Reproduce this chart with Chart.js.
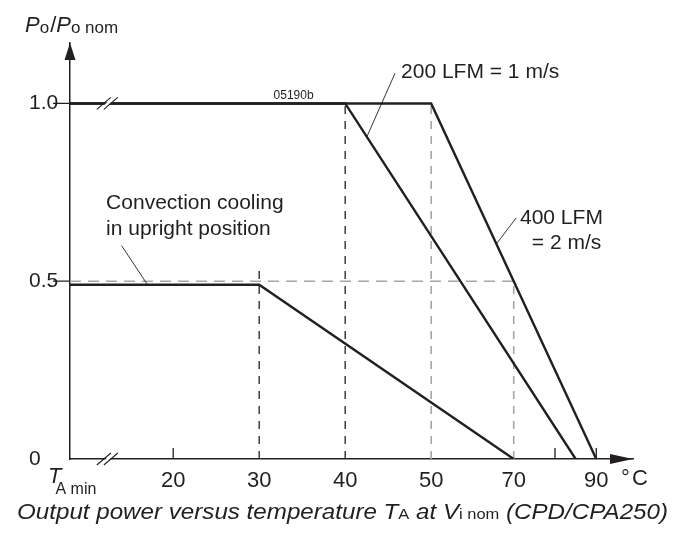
<!DOCTYPE html>
<html>
<head>
<meta charset="utf-8">
<script src="https://cdn.jsdelivr.net/npm/chart.js@4.4.1/dist/chart.umd.min.js"></script>
<style>
html,body{margin:0;padding:0;background:#fff;}
#wrap{width:676px;height:535px;position:relative;}
canvas{display:block;}
</style>
</head>
<body>
<div id="wrap"><canvas id="c" width="676" height="535"></canvas></div>
<script>
// ---------------- data ----------------
const T_AMIN = 8;            // schematic start of the (broken) temperature axis
const X_END_T = 98.9;        // end of axis (arrow tip)
const xTickValues = [20, 30, 40, 50, 70, 80, 90];
const xTickLabels = ['20', '30', '40', '50', '70', '', '90'];
const yTickValues = [0, 0.5, 1.0];
const yTickLabels = ['0', '0.5', '1.0'];

const convectionT = [T_AMIN, 30, 70];
const convectionP = [0.49, 0.49, 0];
const lfm200T = [T_AMIN, 40, 85];
const lfm200P = [1.0, 1.0, 0];
const lfm400T = [T_AMIN, 50, 90];
const lfm400P = [1.0, 1.0, 0];

const guide30T = [30, 30];   const guide30P = [0, 0.53];
const guide40T = [40, 40];   const guide40P = [0, 1.0];
const guide50T = [50, 50];   const guide50P = [0, 1.0];
const guide70T = [70, 70];   const guide70P = [0, 0.5];
const halfT = [T_AMIN, 70];  const halfP = [0.5, 0.5];

// ---------------- broken temperature scale ----------------
const BREAK_T = 50, COMPRESS = 0.48;
const toAxis = t => t <= BREAK_T ? t : BREAK_T + (t - BREAK_T) * COMPRESS;
const fromAxis = v => v <= BREAK_T ? v : BREAK_T + (v - BREAK_T) / COMPRESS;

class BrokenScale extends Chart.LinearScale {
  determineDataLimits() {
    this.min = toAxis(this.options.min);
    this.max = toAxis(this.options.max);
  }
  buildTicks() { return xTickValues.map(v => ({ value: v })); }
  getPixelForValue(value) { return super.getPixelForValue(toAxis(value)); }
  getValueForPixel(pixel) { return fromAxis(super.getValueForPixel(pixel)); }
}
BrokenScale.id = 'broken';
BrokenScale.defaults = Chart.LinearScale.defaults;
Chart.register(BrokenScale);

// ---------------- styling ----------------
const INK = '#231f20';
const GRAY = '#a6a6a6';
const FONT = '"Liberation Sans", Arial, Helvetica, sans-serif';

const pts = (xs, ys) => xs.map((x, i) => ({ x, y: ys[i] }));
const ds = (label, xs, ys, color, width, dash, order) => ({
  label, data: pts(xs, ys), borderColor: color, borderWidth: width,
  borderDash: dash || [], pointRadius: 0, fill: false, tension: 0,
  order: order, borderCapStyle: 'butt', borderJoinStyle: 'miter'
});

const datasets = [
  ds('200 LFM = 1 m/s', lfm200T, lfm200P, INK, 2.4, null, 1),
  ds('400 LFM = 2 m/s', lfm400T, lfm400P, INK, 2.4, null, 1),
  ds('Convection cooling', convectionT, convectionP, INK, 2.4, null, 1),
  ds('g30', guide30T, guide30P, INK, 1.3, [8, 7], 5),
  ds('g40', guide40T, guide40P, INK, 1.3, [8, 7], 5),
  ds('g50', guide50T, guide50P, GRAY, 1.6, [8, 7], 5),
  ds('g70', guide70T, guide70P, GRAY, 1.6, [8, 7], 5),
  ds('half', halfT, halfP, GRAY, 1.6, [11, 7], 6)
];

// ---------------- decorations ----------------
function runs(ctx, parts, x, y) {
  let cx = x;
  for (const p of parts) {
    ctx.font = p.font;
    ctx.fillText(p.t, cx + (p.dx || 0), y + (p.dy || 0));
    cx += ctx.measureText(p.t).width + (p.dx || 0) + (p.after || 0);
  }
  return cx - x;
}
function measureRuns(ctx, parts) {
  let w = 0;
  for (const p of parts) { ctx.font = p.font; w += ctx.measureText(p.t).width + (p.dx || 0) + (p.after || 0); }
  return w;
}
function along(meta, i, f) {
  const a = meta.data[i], b = meta.data[i + 1];
  return { x: a.x + (b.x - a.x) * f, y: a.y + (b.y - a.y) * f };
}
function breakMark(ctx, px, py) {
  ctx.save();
  ctx.fillStyle = '#fff';
  ctx.beginPath();
  ctx.moveTo(px - 8, py + 6); ctx.lineTo(px + 4, py - 6);
  ctx.lineTo(px + 8, py - 6); ctx.lineTo(px - 4, py + 6);
  ctx.closePath(); ctx.fill();
  ctx.strokeStyle = INK; ctx.lineWidth = 1.1;
  ctx.beginPath();
  ctx.moveTo(px - 11, py + 6); ctx.lineTo(px + 3, py - 6);
  ctx.moveTo(px - 4, py + 6); ctx.lineTo(px + 10, py - 6);
  ctx.stroke();
  ctx.restore();
}
const BREAK_MARK_T = 12.4;

const deco = {
  id: 'deco',
  afterDraw(chart) {
    const { ctx, chartArea: a } = chart;
    const x = chart.scales.x, y = chart.scales.y;
    ctx.save();
    ctx.fillStyle = INK; ctx.strokeStyle = INK;

    // axis arrows
    ctx.beginPath();
    ctx.moveTo(a.left, a.top); ctx.lineTo(a.left - 5.5, a.top + 17); ctx.lineTo(a.left + 5.5, a.top + 17);
    ctx.closePath(); ctx.fill();
    ctx.beginPath();
    ctx.moveTo(a.right, a.bottom); ctx.lineTo(a.right - 23, a.bottom - 5); ctx.lineTo(a.right - 23, a.bottom + 5);
    ctx.closePath(); ctx.fill();

    // tick marks
    ctx.lineWidth = 1.3;
    ctx.beginPath();
    [0.5, 1.0].forEach(v => { const py = y.getPixelForValue(v); ctx.moveTo(a.left - 17, py); ctx.lineTo(a.left, py); });
    [20, 80, 90].forEach(v => { const px = x.getPixelForValue(v); ctx.moveTo(px, a.bottom); ctx.lineTo(px, a.bottom - 11); });
    ctx.stroke();

    // axis breaks
    const bx = x.getPixelForValue(BREAK_MARK_T);
    breakMark(ctx, bx, a.bottom);
    breakMark(ctx, bx, y.getPixelForValue(1.0));

    // leader lines
    ctx.lineWidth = 0.9;
    const m200 = chart.getDatasetMeta(0), m400 = chart.getDatasetMeta(1), mc = chart.getDatasetMeta(2);
    const p200 = along(m200, 1, 0.094);
    const p400 = along(m400, 1, 0.395);
    const pc = along(mc, 0, 0.41);
    ctx.beginPath();
    ctx.moveTo(x.getPixelForValue(45.8), y.getPixelForValue(1.085)); ctx.lineTo(p200.x, p200.y);
    ctx.moveTo(x.getPixelForValue(70.6), y.getPixelForValue(0.678)); ctx.lineTo(p400.x, p400.y);
    ctx.moveTo(x.getPixelForValue(14.0), y.getPixelForValue(0.60)); ctx.lineTo(pc.x, pc.y);
    ctx.stroke();

    // annotation texts
    ctx.textBaseline = 'middle';
    ctx.font = '21px ' + FONT;
    ctx.textAlign = 'left';
    ctx.fillText('200 LFM = 1 m/s', x.getPixelForValue(46.5), y.getPixelForValue(1.088));
    ctx.textAlign = 'right';
    ctx.fillText('400 LFM', x.getPixelForValue(91.6), y.getPixelForValue(0.678));
    ctx.fillText('= 2 m/s', x.getPixelForValue(91.2), y.getPixelForValue(0.608));
    ctx.textAlign = 'left';
    ctx.fillText('Convection cooling', x.getPixelForValue(12.2), y.getPixelForValue(0.72));
    ctx.fillText('in upright position', x.getPixelForValue(12.2), y.getPixelForValue(0.647));
    ctx.font = '12px ' + FONT;
    ctx.textAlign = 'center';
    ctx.fillText('05190b', x.getPixelForValue(34.0), y.getPixelForValue(1.022));

    // unit
    ctx.font = '22px ' + FONT;
    ctx.textAlign = 'left';
    ctx.fillText('°', 621, 479);
    ctx.fillText('C', 632, 479);

    // y axis title  Po/Po nom
    ctx.textBaseline = 'alphabetic';
    const big = 'italic 22px ' + FONT, sub = '17px ' + FONT, reg = '22px ' + FONT;
    runs(ctx, [
      { t: 'P', font: big },
      { t: 'o', font: sub, dy: 1 },
      { t: '/', font: reg, dx: 1 },
      { t: 'P', font: big },
      { t: 'o nom', font: sub, dy: 1 }
    ], 25, 32);

    // T_A min under the origin
    runs(ctx, [
      { t: 'T', font: big, after: -6 },
      { t: 'A min', font: '16px ' + FONT, dy: 11 }
    ], 48, 483);

    // caption
    const cbig = 'italic 22px ' + FONT, csub = '15px ' + FONT;
    const cap = [
      { t: 'Output power versus temperature ', font: cbig },
      { t: 'T', font: cbig },
      { t: 'A', font: csub },
      { t: ' at ', font: cbig },
      { t: 'V', font: cbig },
      { t: 'i nom', font: csub },
      { t: ' (CPD/CPA250)', font: cbig }
    ];
    const w = measureRuns(ctx, cap);
    const sx = 651 / w;
    ctx.save();
    ctx.translate(17, 519);
    ctx.scale(sx, 1);
    runs(ctx, cap, 0, 0);
    ctx.restore();

    ctx.restore();
  }
};

new Chart(document.getElementById('c'), {
  type: 'line',
  data: { datasets },
  options: {
    responsive: false,
    animation: false,
    events: [],
    layout: { autoPadding: false, padding: { left: 29, top: 43, right: 43, bottom: 0 } },
    plugins: { legend: { display: false }, tooltip: { enabled: false } },
    scales: {
      x: {
        type: 'broken',
        min: T_AMIN, max: X_END_T,
        grid: { display: false, drawTicks: false },
        border: { display: true, color: INK, width: 1.5 },
        ticks: {
          autoSkip: false, maxRotation: 0, padding: 9, color: INK,
          font: { family: FONT, size: 22 },
          callback: (v, i) => xTickLabels[i]
        },
        afterFit: s => { s.height = 76; }
      },
      y: {
        type: 'linear', min: 0, max: 1.17,
        grid: { display: false, drawTicks: false },
        border: { display: true, color: INK, width: 1.5 },
        afterBuildTicks: s => { s.ticks = yTickValues.map(v => ({ value: v })); },
        ticks: {
          crossAlign: 'far', padding: 14, color: INK,
          font: { family: FONT, size: 21 },
          callback: (v, i) => yTickLabels[i]
        },
        afterFit: s => { s.width = 41; }
      }
    }
  },
  plugins: [deco]
});
</script>
</body>
</html>
